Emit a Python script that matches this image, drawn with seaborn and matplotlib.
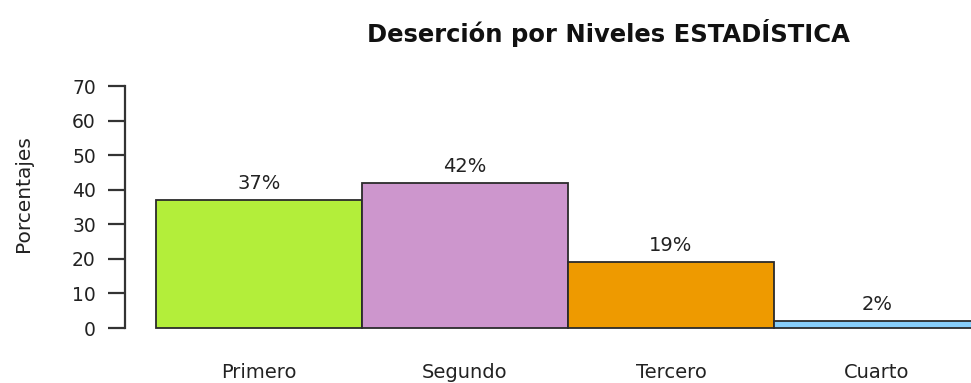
import matplotlib
matplotlib.use("Agg")
import matplotlib.pyplot as plt
import seaborn as sns
import pandas as pd

# Dropout share by course level
niveles = ["Primero", "Segundo", "Tercero", "Cuarto"]
porcentajes = [37, 42, 19, 2]
colores = ["#B3EE3A", "#CD96CD", "#EE9A00", "#87CEFA"]
ticks_y = [0, 10, 20, 30, 40, 50, 60, 70]
titulo = "Deserción por Niveles ESTADÍSTICA"
etiqueta_y = "Porcentajes"

sns.set_style("white")
plt.rcParams["font.family"] = ["DejaVu Sans"]

df = pd.DataFrame({"nivel": niveles, "pct": porcentajes})

fig = plt.figure(figsize=(9.71, 3.83), dpi=100)
ax = fig.add_axes([125 / 971, 55 / 383, 846 / 971, 242 / 383])

sns.barplot(data=df, x="nivel", y="pct", hue="nivel", palette=colores,
            width=1.0, edgecolor="#2b2b2b", linewidth=1.3, legend=False,
            saturation=1, ax=ax)
for p in ax.patches:
    p.set_clip_on(False)

# percentage above each bar
for cont, v in zip(ax.containers, porcentajes):
    ax.bar_label(cont, labels=[f"{v}%"], padding=5, fontsize=14,
                 color="#222222")

ax.set_xlim(-0.65, 3.456)
ax.set_ylim(0, 70)
ax.set_yticks(ticks_y)
ax.set_xlabel("")
ax.set_ylabel(etiqueta_y, fontsize=14.5, color="#222222")
ax.yaxis.label.set(ha="center", va="center", rotation_mode="default")
ax.yaxis.set_label_coords(-0.12, 0.555)

for s in ["top", "right", "bottom"]:
    ax.spines[s].set_visible(False)
ax.spines["left"].set_color("#333333")
ax.spines["left"].set_linewidth(1.6)

ax.tick_params(axis="y", length=12, width=1.6, color="#333333",
               labelsize=13.5, pad=9, labelcolor="#222222", left=True)
ax.tick_params(axis="x", length=0, labelsize=14, pad=25,
               labelcolor="#222222")

fig.text(608 / 971, 1 - 33 / 383, titulo, ha="center", va="center",
         fontsize=17.5, fontweight="bold", color="#111111")

fig.savefig("out.png", dpi=100)
